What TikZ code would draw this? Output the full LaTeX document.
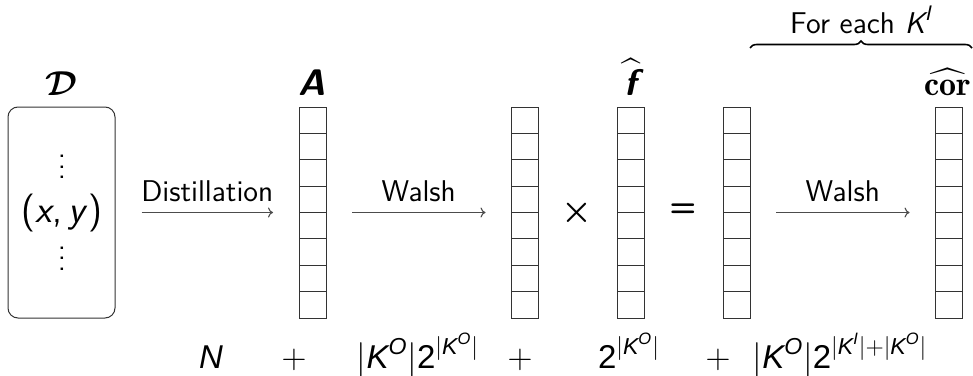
\documentclass[tikz,border=0pt]{standalone}
\usepackage{amsmath}
\usepackage{fontspec}
\usepackage{bm}
\newfontfamily\botfont{Liberation Sans}
\usetikzlibrary{decorations.pathreplacing,arrows.meta}
\newcommand\bk[1]{\text{\botfont\itshape #1}}
\newcommand\bd{\text{\botfont 2}}
\newcommand\KO{\bk{K}^{\bk{O}}}
\newcommand\KI{\bk{K}^{\bk{I}}}
\newcommand\myvdots{\vbox{\baselineskip5.3pt\lineskiplimit-10pt\lineskip0pt\hbox{.}\hbox{.}\hbox{.}}}
\begin{document}
\begin{tikzpicture}[x=0.5pt,y=-0.5pt,
  cell/.style={draw=black!80, line width=0.5pt, minimum width=13.5pt, minimum height=13.1875pt, inner sep=0pt, outer sep=0pt},
  lbl/.style={font=\sffamily\fontsize{15}{18}\selectfont, anchor=base, inner sep=0pt},
  toplbl/.style={font=\fontsize{17}{20}\selectfont, anchor=base, inner sep=0pt},
  arr/.style={-{To[length=2.5pt,width=5pt]}, draw=black!70, line width=0.55pt, shorten <=13pt, shorten >=13pt},
  bot/.style={font=\fontsize{16.5}{19}\selectfont, anchor=base, inner sep=0pt},
  dots/.style={font=\sffamily\fontsize{15}{18}\selectfont, inner sep=0pt},
  op/.style={inner sep=0pt}]
\useasboundingbox (0,0) rectangle (973,375);

% data box
\node[draw=black!80, line width=0.5pt, rounded corners=5pt, minimum width=53.5pt, minimum height=105.5pt, inner sep=0pt] (D) at (61.5,212.5) {};
\node[dots] (dtop) at (62,167) {\myvdots};
\node[font=\sffamily\fontsize{19}{22}\selectfont, inner sep=0pt] (xy) at (62,213.5) {(\textit{x},\kern3.5pt\textit{y})};
\node[dots] (dbot) at (62,258.5) {\myvdots};

% columns
\foreach \c/\x in {A/312.5, B/525, F/630.5, C/736.5, R/949} {
  \foreach \i in {1,...,8} {
    \node[cell] (\c-\i) at (\x, {107+26.375*(\i-0.5)}) {};
  }
}
\coordinate (Amid) at (312.5,212.5);

% column labels
\node[toplbl] (Dl) at (61,95) {$\bm{\mathcal{D}}$};
\node[toplbl, font=\sffamily\bfseries\itshape\fontsize{18.5}{21}\selectfont] (Al) at (312.5,95) {A};
\node[toplbl, font=\fontsize{18.5}{21}\selectfont] (Fl) at (631,95) {$\widehat{\textsf{\bfseries\itshape f}}$};
\node[toplbl] (Rl) at (948,95) {$\widehat{\mathbf{cor}}$};

% arrows
\draw[arr] (D.east |- Amid) -- node[lbl, pos=0.5, yshift=5.5pt] (dl) {Distillation} (A-4.south west);
\draw[arr] (A-4.south east) -- node[lbl, pos=0.5, yshift=5.5pt] (w1) {Walsh} (B-4.south west);
\draw[arr] (C-4.south east) -- node[lbl, pos=0.5, yshift=5.5pt] (w2) {Walsh} (R-4.south west);

% operators
\node[op, font=\fontsize{17}{20}\selectfont] (times) at (577,213) {$\bm{\times}$};
\node[op, font=\sffamily\bfseries\fontsize{15.5}{18}\selectfont] (eq) at (683,210.5) {=};

% brace
\coordinate (bl) at (750,48);
\coordinate (br) at (972,48);
\draw[decorate, decoration={brace, amplitude=3.5pt}, line width=0.8pt] (bl) -- (br);
\node[lbl] (fe) at (861,33) {For each $\textsf{\itshape K}^{\textsf{\itshape I}}$};

% bottom cost
\node[bot] (n1) at (211,368) {$\bk{N}$};
\node[bot] (p1) at (294,368) {$+$};
\node[bot] (t2) at (418,368) {$|\KO|\bd^{|\KO|}$};
\node[bot] (p2) at (520,368) {$+$};
\node[bot] (t3) at (629,368) {$\bd^{|\KO|}$};
\node[bot] (p3) at (718,368) {$+$};
\node[bot] (t4) at (840,368) {$|\KO|\bd^{|\KI|+|\KO|}$};
\end{tikzpicture}
\end{document}
